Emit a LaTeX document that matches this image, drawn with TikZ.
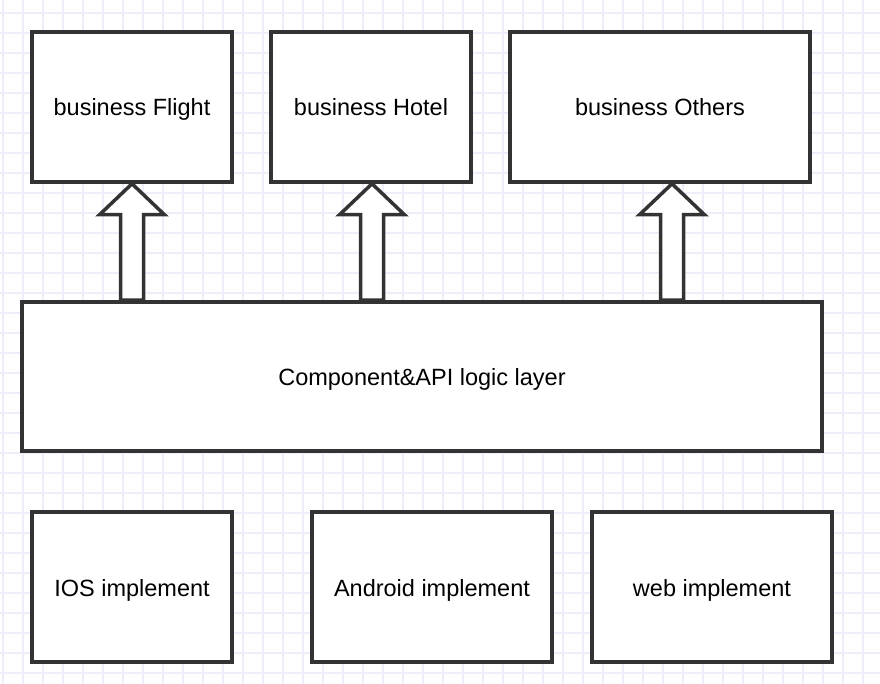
\documentclass[tikz,border=0pt]{standalone}
\usepackage{fontspec}
\setmainfont{Liberation Sans}
\usetikzlibrary{calc}
\definecolor{gridcol}{HTML}{EEEEFB}
\definecolor{edge}{HTML}{333333}
\begin{document}
\begin{tikzpicture}[x=1pt,y=-1pt,
  box/.style={draw=edge,line width=3.5pt,fill=white,inner sep=0pt,
    text height=19pt,text depth=1pt,
    font=\fontsize{23.5}{28}\selectfont,text=black},
  barrow/.style={draw=edge,line width=3.5pt,fill=white,line join=miter}]
  % page and background grid
  \useasboundingbox (0,0) rectangle (880,684);
  \fill[white] (0,0) rectangle (880,684);
  \foreach \gx in {3,23,...,880} \draw[gridcol,line width=1.5pt] (\gx,0) -- (\gx,684);
  \foreach \gy in {13,33,...,684} \draw[gridcol,line width=1.5pt] (0,\gy) -- (880,\gy);

  % business layer
  \node[box,minimum width=200,minimum height=150] (flight) at (132,107) {business Flight};
  \node[box,minimum width=200,minimum height=150] (hotel)  at (371,107) {business Hotel};
  \node[box,minimum width=300,minimum height=150] (others) at (660,107) {business Others};

  % shared logic layer
  \node[box,minimum width=800,minimum height=149] (comp) at (422,376.5) {Component\&API logic layer};

  % platform implementations
  \node[box,minimum width=200,minimum height=150] (ios)     at (132,587) {IOS implement};
  \node[box,minimum width=240,minimum height=150] (android) at (432,587) {Android implement};
  \node[box,minimum width=240,minimum height=150] (web)     at (712,587) {web implement};

  % hollow block arrows from the logic layer up to each business box
  \foreach \target/\dx in {flight/0, hotel/1, others/12}{
    \draw[barrow]
      let \p1 = ($(\target.south)+(\dx,0)$), \p2 = (comp.north) in
      (\x1,\y1) -- (\x1+32.5pt,\y1-31pt) -- (\x1+11.5pt,\y1-31pt)
      -- (\x1+11.5pt,\y2) -- (\x1-11.5pt,\y2) -- (\x1-11.5pt,\y1-31pt)
      -- (\x1-32.5pt,\y1-31pt) -- cycle;
  }
\end{tikzpicture}
\end{document}
